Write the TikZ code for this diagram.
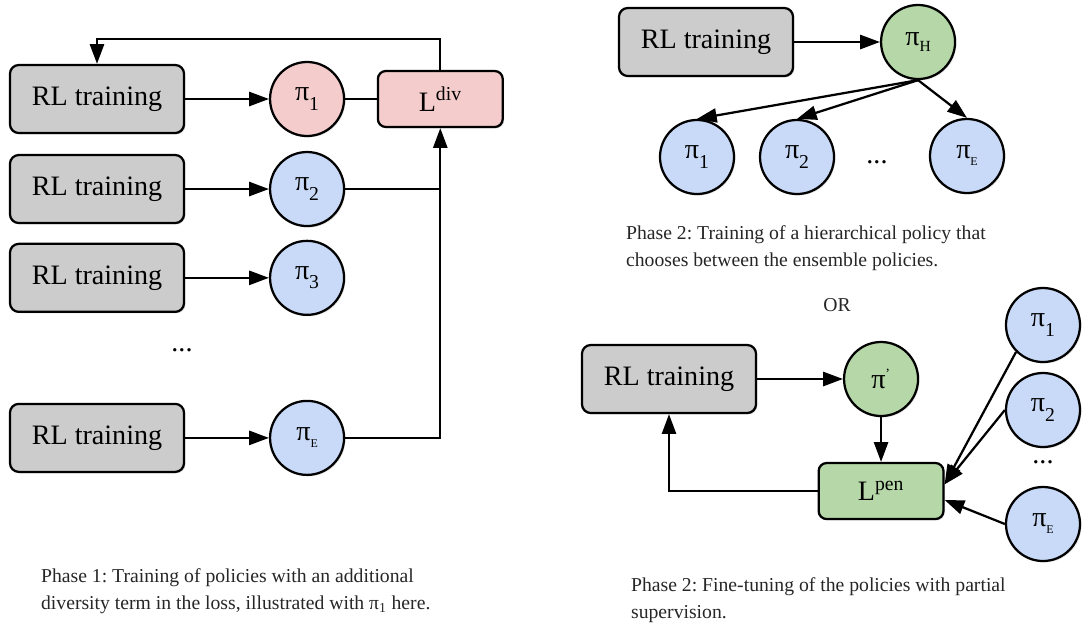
\documentclass[tikz,border=0pt]{standalone}
\usepackage{fontspec}
\setmainfont{Liberation Serif}
\usetikzlibrary{arrows.meta,positioning,shadows}

\definecolor{boxgray}{HTML}{CCCCCC}
\definecolor{lossred}{HTML}{F4CCCC}
\definecolor{polblue}{HTML}{C9DAF8}
\definecolor{polgreen}{HTML}{B6D7A8}
\newcommand{\polsub}[1]{\raisebox{-6.5pt}{\fontsize{14}{14}\selectfont #1}}
\newcommand{\smallsub}[1]{\raisebox{-5pt}{\fontsize{8.5}{9}\selectfont #1}}
\frenchspacing

\begin{document}
\begin{tikzpicture}[x=0.025cm,y=-0.025cm,>={Triangle[length=14pt,width=10pt]},
    line width=1.6pt,on grid,font=\fontsize{20}{24}\selectfont]
  \tikzstyle{train}=[draw,fill=boxgray,rounded corners=0.22cm,minimum width=4.35cm,
    minimum height=1.7cm,drop shadow={opacity=0.25,shadow xshift=1pt,shadow yshift=-1pt}]
  \tikzstyle{pol}=[draw,circle,fill=polblue,minimum size=1.85cm,inner sep=0pt,
    drop shadow={opacity=0.25,shadow xshift=1pt,shadow yshift=-1pt}]
  \tikzstyle{loss}=[draw,rounded corners=0.2cm,minimum width=3.12cm,minimum height=1.4cm,
    drop shadow={opacity=0.25,shadow xshift=1pt,shadow yshift=-1pt}]
  \tikzstyle{caption}=[anchor=west,align=left,inner sep=0pt,text=black!85,
    font=\fontsize{14}{19}\selectfont]
  \useasboundingbox (0,0) rectangle (1086,627);

  % Phase 1
  \node[train] (rlA) at (97,99) {RL training};
  \node[train,below=2.25cm of rlA] (rlB) {RL training};
  \node[train,below=2.22cm of rlB] (rlC) {RL training};
  \node[train,below=4cm of rlC] (rlE) {RL training};
  \node[pol,fill=lossred,right=5.25cm of rlA] (pA) {π\polsub{1}};
  \node[pol,right=5.25cm of rlB] (pB) {π\polsub{2}};
  \node[pol,right=5.25cm of rlC] (pC) {π\polsub{3}};
  \node[pol,right=5.25cm of rlE] (pE) {π\smallsub{E}};
  \node[loss,fill=lossred,right=3.33cm of pA] (ldiv) {L\textsuperscript{div}};
  \node (dotsA) at (182,350) {...};

  \path[->]
    (rlA) edge (pA)
    (rlB) edge (pB)
    (rlC) edge (pC)
    (rlE) edge (pE);
  \draw (pA) -- (ldiv);
  \draw (pB.east) -- (pB.east -| ldiv.south);
  \draw[->] (pE.east) -| (ldiv.south);
  \draw[->] (ldiv.north) -- ++(0,-31) -| (rlA.north);

  \node[caption] (capA) at (40,591) {Phase 1: Training of policies with an additional\\
    diversity term in the loss, illustrated with π\textsubscript{1} here.};

  % Phase 2, hierarchical policy
  \node[train] (rlH) at (706,42) {RL training};
  \node[pol,fill=polgreen,right=5.3cm of rlH] (pH) {π\raisebox{-4pt}{\fontsize{11}{11}\selectfont H}};
  \node[pol] (hA) at (697,157) {π\polsub{1}};
  \node[pol,right=2.5cm of hA] (hB) {π\polsub{2}};
  \node[pol] (hE) at (967,156) {π\smallsub{E}};
  \node (dotsH) at (877,162) {...};

  \path[->]
    (rlH) edge (pH)
    (pH.south) edge (hA.north)
    (pH.south) edge (hB.north)
    (pH.south) edge (hE.north);

  \node[caption] (capH) at (625,248) {Phase 2: Training of a hierarchical policy that\\
    chooses between the ensemble policies.};
  \node[font=\fontsize{14}{19}\selectfont,text=black!85] (orlabel) at (837,305) {OR};

  % Phase 2, fine-tuning
  \node[train] (rlF) at (669,379) {RL training};
  \node[pol,fill=polgreen,right=5.3cm of rlF] (pF) {π\textsuperscript{\fontsize{10}{10}\selectfont '}};
  \node[loss,fill=polgreen,below=2.8cm of pF] (lpen) {L\textsuperscript{pen}};
  \node[pol] (fA) at (1043,325) {π\polsub{1}};
  \node[pol] (fB) at (1043,410) {π\polsub{2}};
  \node[pol] (fE) at (1043,524) {π\smallsub{E}};
  \node (dotsF) at (1043,462) {...};

  \path[->]
    (rlF) edge (pF)
    (pF) edge (lpen)
    (fA.south west) edge (lpen.6)
    (fB.west) edge (lpen.6)
    (fE.west) edge (lpen.-8);
  \draw[->] (lpen.west) -| (rlF.south);

  \node[caption] (capF) at (630,600) {Phase 2: Fine-tuning of the policies with partial\\
    supervision.};
\end{tikzpicture}
\end{document}
